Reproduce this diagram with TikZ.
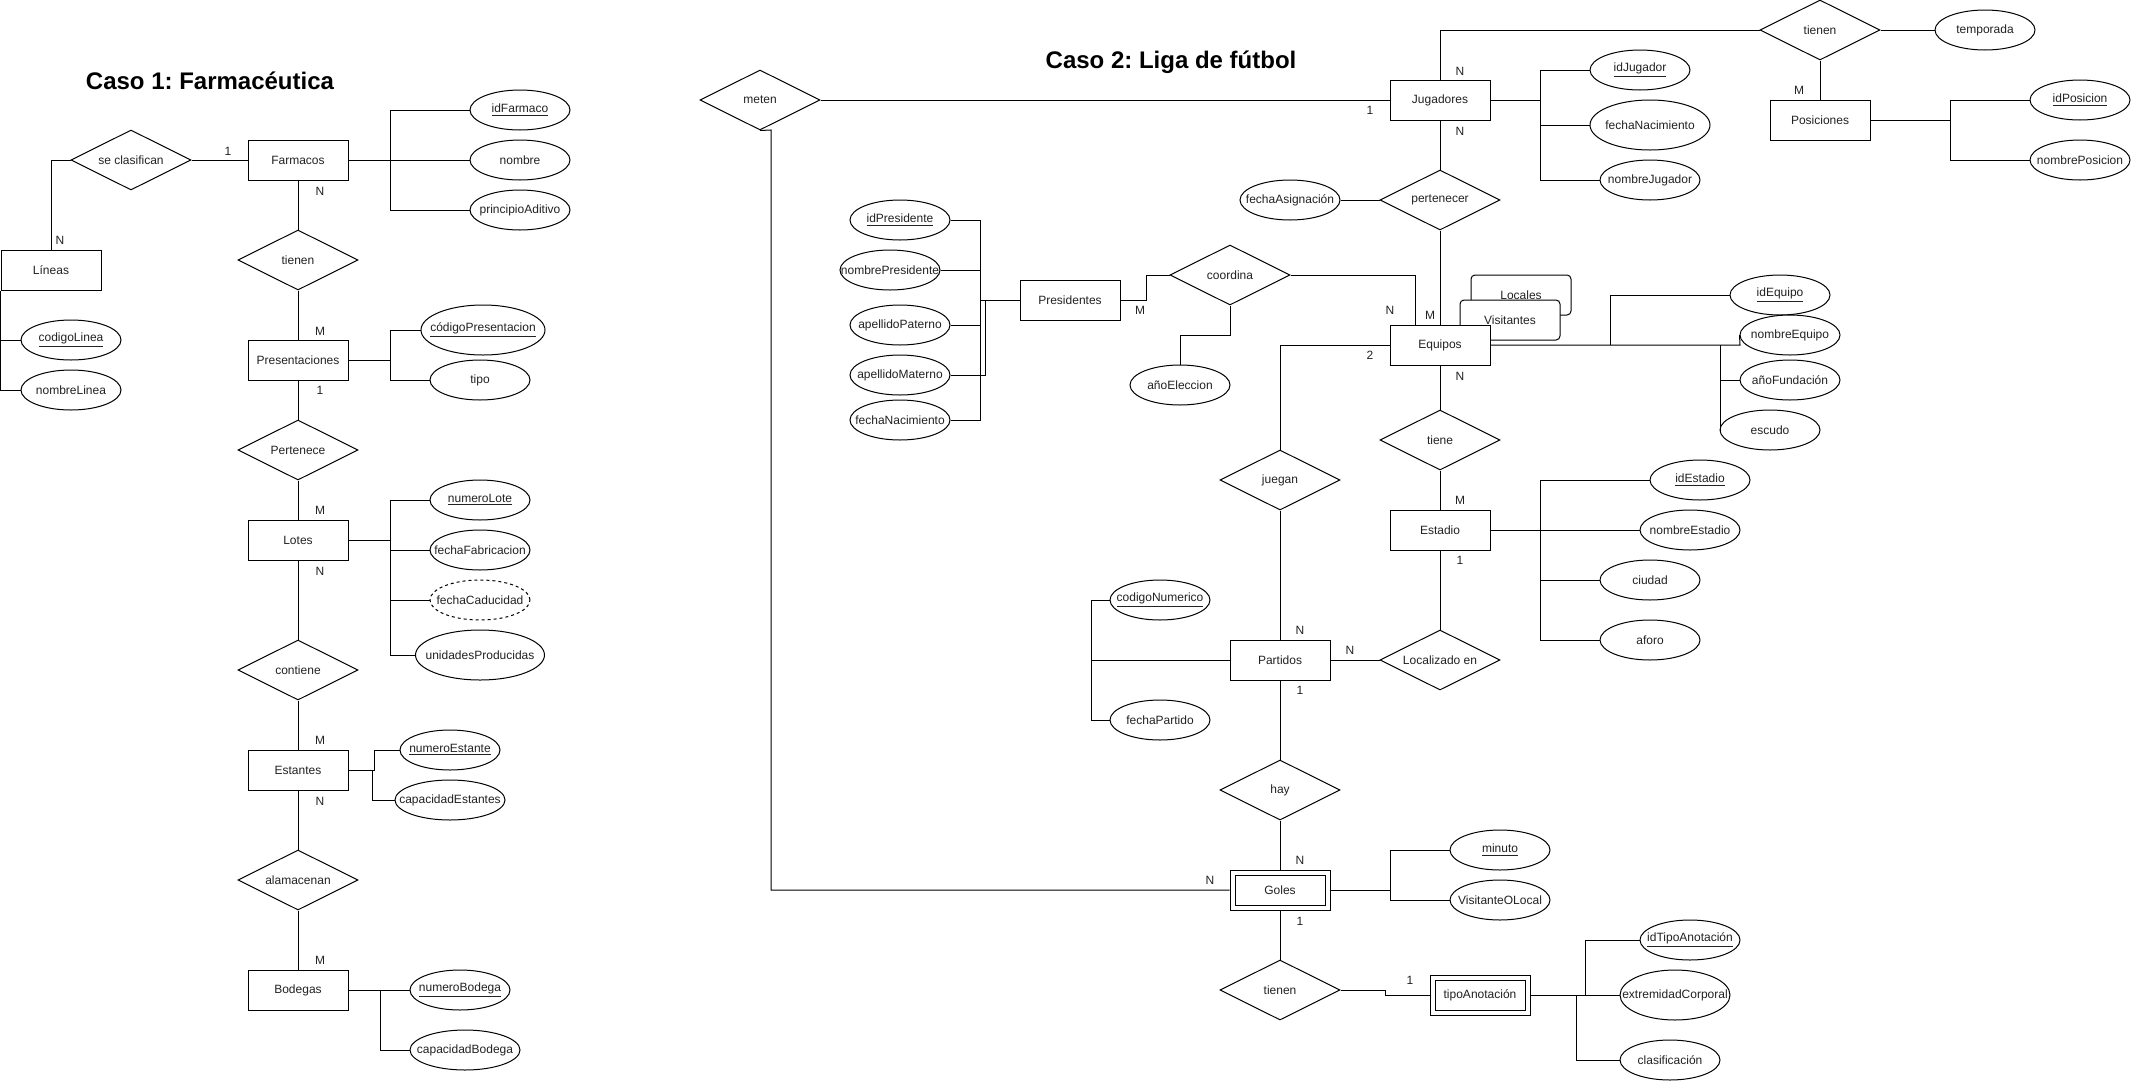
\documentclass[tikz,border=0pt]{standalone}
\usepackage{fontspec}
\setmainfont{Liberation Sans}
\usetikzlibrary{shapes.geometric}
\definecolor{txt}{HTML}{222222}
\newcommand\zb[1]{\makebox[0pt]{#1}}
\frenchspacing
\begin{document}
\begin{tikzpicture}[x=0.75pt,y=-0.75pt,line width=0.75pt,
  every node/.style={font=\fontsize{9pt}{11pt}\selectfont, text=txt},
  ent/.style={draw, fill=white, rectangle, minimum width=75pt, minimum height=30pt, inner sep=0pt},
  inent/.style={draw, fill=white, rectangle, minimum width=67.5pt, minimum height=22.5pt, inner sep=0pt},
  attr/.style={draw, fill=white, ellipse, minimum width=75pt, minimum height=30pt, inner sep=0pt},
  rel/.style={draw, fill=white, diamond, minimum width=90pt, minimum height=45pt, inner sep=0pt},
  tag/.style={draw, fill=white, rectangle, rounded corners=3pt, minimum width=75pt, minimum height=30pt, inner sep=0pt},
  card/.style={inner sep=0pt},
  ttl/.style={inner sep=0pt, text=black, font=\fontsize{18pt}{21pt}\selectfont\bfseries}]
\fill[white] (0,0) rectangle (2132,1082);
\useasboundingbox (0,0) rectangle (2132,1082);

% ---------------- Caso 1 ----------------
\node[ttl] (t1) at (210,81) {Caso 1: Farmacéutica};
\node[rel] (secl) at (131,160) {\zb{se clasifican}};
\node[ent] (farm) at (298,160) {Farmacos};
\node[ent] (lin) at (51,270) {Líneas};
\node[attr] (codl) at (71,340) {\zb{\underline{codigoLinea}}};
\node[attr] (noml) at (71,390) {\zb{nombreLinea}};
\node[attr] (idf) at (520,110) {\zb{\underline{idFarmaco}}};
\node[attr] (nomf) at (520,160) {\zb{nombre}};
\node[attr] (prin) at (520,210) {\zb{principioAditivo}};
\node[rel] (tie1) at (298,260) {\zb{tienen}};
\node[ent] (presn) at (298,360) {Presentaciones};
\node[attr, minimum width=93pt, minimum height=37.5pt] (codp) at (483,330) {\zb{\underline{códigoPresentacion}}};
\node[attr] (tipo) at (480,380) {\zb{tipo}};
\node[rel] (pert) at (298,450) {\zb{Pertenece}};
\node[ent] (lot) at (298,540) {Lotes};
\node[attr] (numl) at (480,500) {\zb{\underline{numeroLote}}};
\node[attr] (fecf) at (480,550) {\zb{fechaFabricacion}};
\node[attr, dash pattern=on 2.25pt off 2.25pt] (fecc) at (480,600) {\zb{fechaCaducidad}};
\node[attr, minimum width=96.75pt, minimum height=37.5pt] (unid) at (480,655) {\zb{unidadesProducidas}};
\node[rel] (cont) at (298,670) {\zb{contiene}};
\node[ent] (est) at (298,770) {Estantes};
\node[attr] (nume) at (450,750) {\zb{\underline{numeroEstante}}};
\node[attr, minimum width=82.5pt] (cape) at (450,800) {\zb{capacidadEstantes}};
\node[rel] (alm) at (298,880) {\zb{alamacenan}};
\node[ent] (bod) at (298,990) {Bodegas};
\node[attr] (numb) at (460,990) {\zb{\underline{numeroBodega}}};
\node[attr, minimum width=82.5pt] (capb) at (465,1050) {\zb{capacidadBodega}};

\draw (secl.east) -- (farm.west);
\draw (secl.west) -| (lin.north);
\draw (lin.south west) |- (codl.west);
\draw (lin.south west) |- (noml.west);
\coordinate (jf) at (390,160);
\draw (farm.east) -- (nomf.west);
\draw (jf) |- (idf.west);
\draw (jf) |- (prin.west);
\draw (farm.south) -- (tie1.north);
\draw (tie1.south) -- (presn.north);
\coordinate (jp) at (390,360);
\draw (presn.east) -- (jp) |- (codp.west);
\draw (jp) |- (tipo.west);
\draw (presn.south) -- (pert.north);
\draw (pert.south) -- (lot.north);
\coordinate (jl) at (390,540);
\draw (lot.east) -- (jl) |- (numl.west);
\draw (jl) |- (fecf.west);
\draw (jl) |- (fecc.west);
\draw (jl) |- (unid.west);
\draw (lot.south) -- (cont.north);
\draw (cont.south) -- (est.north);
\coordinate (je1) at (374,770);
\coordinate (je2) at (372,770);
\draw (est.east) -- (je1) |- (nume.west);
\draw (je2) |- (cape.west);
\draw (est.south) -- (alm.north);
\draw (alm.south) -- (bod.north);
\draw (bod.east) -- (numb.west);
\coordinate (jb) at (380,990);
\draw (jb) |- (capb.west);

\node[card] (k1) at (228,151) {1};
\node[card] (k2) at (60,240) {N};
\node[card] (k3) at (320,191) {N};
\node[card] (k4) at (320,331) {M};
\node[card] (k5) at (320,390) {1};
\node[card] (k6) at (320,510) {M};
\node[card] (k7) at (320,571) {N};
\node[card] (k8) at (320,740) {M};
\node[card] (k9) at (320,801) {N};
\node[card] (k10) at (320,960) {M};

% ---------------- Caso 2 ----------------
\node[ttl] (t2) at (1171,62) {Caso 2: Liga de fútbol};
\node[rel] (met) at (760,100) {\zb{meten}};
\node[ent] (jug) at (1440,100) {Jugadores};
\node[attr] (idj) at (1640,70) {\zb{\underline{idJugador}}};
\node[attr, minimum width=90pt, minimum height=37.5pt] (fnj) at (1650,125) {\zb{fechaNacimiento}};
\node[attr] (nomj) at (1650,180) {\zb{nombreJugador}};
\node[rel] (tie2) at (1820,30) {\zb{tienen}};
\node[attr] (temp) at (1985,30) {\zb{temporada}};
\node[ent] (pos) at (1820,120) {Posiciones};
\node[attr] (idpo) at (2080,100) {\zb{\underline{idPosicion}}};
\node[attr] (nompo) at (2080,160) {\zb{nombrePosicion}};
\node[rel] (perr) at (1440,200) {\zb{pertenecer}};
\node[attr] (fasg) at (1290,200) {\zb{fechaAsignación}};
\node[tag] (loc) at (1521,295) {Locales};
\node[tag] (vis) at (1510,320) {Visitantes};
\node[ent] (equ) at (1440,345) {Equipos};
\node[attr] (ideq) at (1780,295) {\zb{\underline{idEquipo}}};
\node[attr] (nomeq) at (1790,335) {\zb{nombreEquipo}};
\node[attr] (anof) at (1790,380) {\zb{añoFundación}};
\node[attr] (esc) at (1770,430) {\zb{escudo}};
\node[ent] (presd) at (1070,300) {Presidentes};
\node[attr] (idpr) at (900,220) {\zb{\underline{idPresidente}}};
\node[attr] (nompr) at (890,270) {\zb{nombrePresidente}};
\node[attr] (app) at (900,325) {\zb{apellidoPaterno}};
\node[attr] (apm) at (900,375) {\zb{apellidoMaterno}};
\node[attr] (fnp) at (900,420) {\zb{fechaNacimiento}};
\node[rel] (coo) at (1230,275) {\zb{coordina}};
\node[attr] (anoe) at (1180,385) {\zb{añoEleccion}};
\node[rel] (jue) at (1280,480) {\zb{juegan}};
\node[rel] (tne) at (1440,440) {\zb{tiene}};
\node[ent] (esta) at (1440,530) {Estadio};
\node[attr] (ides) at (1700,480) {\zb{\underline{idEstadio}}};
\node[attr] (nomes) at (1690,530) {\zb{nombreEstadio}};
\node[attr] (ciu) at (1650,580) {\zb{ciudad}};
\node[attr] (afo) at (1650,640) {\zb{aforo}};
\node[rel] (lze) at (1440,660) {\zb{Localizado en}};
\node[ent] (par) at (1280,660) {Partidos};
\node[attr] (codn) at (1160,600) {\zb{\underline{codigoNumerico}}};
\node[attr] (fecp) at (1160,720) {\zb{fechaPartido}};
\node[rel] (hay) at (1280,790) {\zb{hay}};
\node[ent] (gol) at (1280,890) {};
\node[inent] (golin) at (1280,890) {Goles};
\node[attr] (minu) at (1500,850) {\zb{\underline{minuto}}};
\node[attr] (vol) at (1500,900) {\zb{VisitanteOLocal}};
\node[rel] (tie3) at (1280,990) {\zb{tienen}};
\node[ent] (tan) at (1480,995) {};
\node[inent] (tanin) at (1480,995) {tipoAnotación};
\node[attr] (idta) at (1690,940) {\zb{\underline{idTipoAnotación}}};
\node[attr, minimum width=82.5pt, minimum height=37.5pt] (extc) at (1675,995) {\zb{extremidadCorporal}};
\node[attr] (cla) at (1670,1060) {\zb{clasificación}};

\draw (met.east) -- (jug.west);
\coordinate (mt) at (771,130);
\draw (met.south) -- (mt) |- (gol.west);
\coordinate (jj) at (1540,100);
\draw (jug.east) -- (jj) |- (idj.west);
\draw (jj) |- (fnj.west);
\draw (jj) |- (nomj.west);
\draw (tie2.west) -| (jug.north);
\draw (tie2.east) -- (temp.west);
\draw (tie2.south) -- (pos.north);
\coordinate (jpo) at (1950,120);
\draw (pos.east) -- (jpo) |- (idpo.west);
\draw (jpo) |- (nompo.west);
\draw (jug.south) -- (perr.north);
\draw (fasg.east) -- (perr.west);
\draw (perr.south) -- (equ.north);
\coordinate (jq1) at (1610,345);
\coordinate (jq2) at (1720,345);
\coordinate (jq3) at (1740,345);
\draw (equ.east) -- (jq3) -- (nomeq.west);
\draw (jq1) |- (ideq.west);
\draw (jq2) |- (anof.west);
\draw (jq2) |- (esc.west);
\coordinate (jpr) at (980,300);
\coordinate (jpr2) at (985,300);
\draw (presd.west) -- (jpr);
\draw (idpr.east) -| (jpr);
\draw (nompr.east) -| (jpr);
\draw (app.east) -| (jpr);
\draw (fnp.east) -| (jpr);
\draw (apm.east) -| (jpr2);
\coordinate (jc) at (1146,300);
\draw (presd.east) -- (jc) |- (coo.west);
\draw (coo.east) -| ([xshift=-18.75pt]equ.north);
\coordinate (jc2) at (1230,335);
\draw (coo.south) -- (jc2) -| (anoe.north);
\draw (equ.west) -| (jue.north);
\draw (jue.south) -- (par.north);
\draw (equ.south) -- (tne.north);
\draw (tne.south) -- (esta.north);
\coordinate (jes) at (1540,530);
\draw (esta.east) -- (nomes.west);
\draw (jes) |- (ides.west);
\draw (jes) |- (ciu.west);
\draw (jes) |- (afo.west);
\draw (esta.south) -- (lze.north);
\draw (par.east) -- (lze.west);
\coordinate (jpa) at (1091,660);
\draw (par.west) -- (jpa) |- (codn.west);
\draw (jpa) |- (fecp.west);
\draw (par.south) -- (hay.north);
\draw (hay.south) -- (gol.north);
\coordinate (jg) at (1390,890);
\draw (gol.east) -- (jg) |- (minu.west);
\draw (jg) |- (vol.west);
\draw (gol.south) -- (tie3.north);
\coordinate (jt1) at (1385,990);
\coordinate (jt2) at (1385,995);
\draw (tie3.east) -- (jt1) -- (jt2) -- (tan.west);
\draw (tan.east) -- (extc.west);
\coordinate (ja1) at (1585,995);
\coordinate (ja2) at (1576,995);
\draw (ja1) |- (idta.west);
\draw (ja2) |- (cla.west);

\node[card] (q1) at (1370,110) {1};
\node[card] (q2) at (1460,71) {N};
\node[card] (q3) at (1799,90) {M};
\node[card] (q4) at (1460,131) {N};
\node[card] (q5) at (1430,315) {M};
\node[card] (q6) at (1390,310) {N};
\node[card] (q7) at (1140,310) {M};
\node[card] (q8) at (1370,355) {2};
\node[card] (q9) at (1460,376) {N};
\node[card] (q10) at (1460,500) {M};
\node[card] (q11) at (1460,560) {1};
\node[card] (q12) at (1350,650) {N};
\node[card] (q13) at (1300,630) {N};
\node[card] (q14) at (1300,690) {1};
\node[card] (q15) at (1300,860) {N};
\node[card] (q16) at (1210,880) {N};
\node[card] (q17) at (1300,921) {1};
\node[card] (q18) at (1410,980) {1};
\end{tikzpicture}
\end{document}
